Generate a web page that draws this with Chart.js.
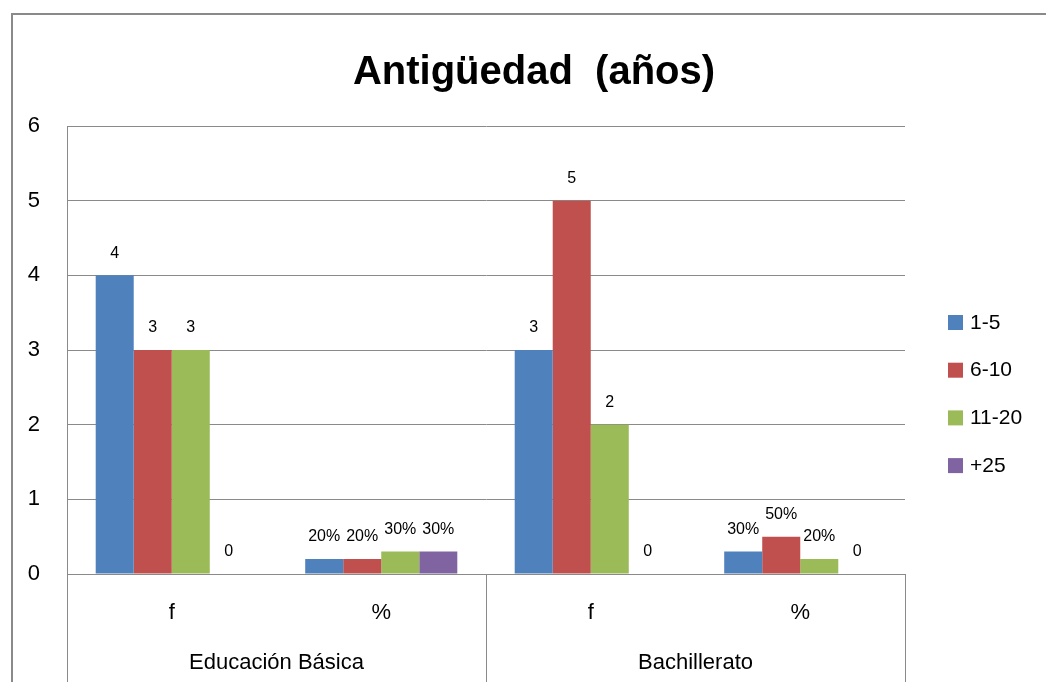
<!DOCTYPE html>
<html>
<head>
<meta charset="utf-8">
<script src="https://cdn.jsdelivr.net/npm/chart.js@4/dist/chart.umd.min.js"></script>
<style>
    body { margin: 0; background: #fff; overflow: hidden; }
    #wrap { position: absolute; left: 11px; top: 13px; width: 1046px; height: 669px; }
</style>
</head>
<body>
<div id="wrap"><canvas id="antiguedadChart"></canvas></div>
<script>
const categories = ["f", "%", "f", "%"];
const groups = ["Educación Básica", "Bachillerato"];
const seriesNames = ["1-5", "6-10", "11-20", "+25"];
const range1to5 = [4, 0.2, 3, 0.3];
const range6to10 = [3, 0.2, 5, 0.5];
const range11to20 = [3, 0.3, 2, 0.2];
const range25plus = [0, 0.3, 0, 0];
const colors = ["#4F81BD", "#C0504D", "#9BBB59", "#8064A2"];

const FONT = "'Liberation Sans', Arial, sans-serif";
const LINE = "#8a8a8a";

// white background + outer frame (top and left edges)
const framePlugin = {
    id: "frame",
    beforeDraw(chart) {
        const ctx = chart.ctx;
        ctx.save();
        ctx.fillStyle = "#fff";
        ctx.fillRect(0, 0, chart.width, chart.height);
        ctx.strokeStyle = LINE;
        ctx.lineWidth = 2;
        ctx.beginPath();
        ctx.moveTo(1, chart.height);
        ctx.lineTo(1, 1);
        ctx.lineTo(chart.width, 1);
        ctx.stroke();
        ctx.restore();
    },
};

// group separators on the category axis
const separatorPlugin = {
    id: "separators",
    afterDraw(chart) {
        const x2 = chart.scales.x2;
        const ctx = chart.ctx;
        const p0 = x2.getPixelForValue(0);
        const p1 = x2.getPixelForValue(1);
        const xs = [x2.left, (p0 + p1) / 2, x2.right];
        ctx.save();
        ctx.strokeStyle = LINE;
        ctx.lineWidth = 1;
        xs.forEach((x) => {
            const px = Math.round(x) + 0.5;
            ctx.beginPath();
            ctx.moveTo(px, chart.chartArea.bottom);
            ctx.lineTo(px, chart.height);
            ctx.stroke();
        });
        ctx.restore();
    },
};

// value labels above bars
const valueLabelPlugin = {
    id: "valueLabels",
    afterDatasetsDraw(chart) {
        const ctx = chart.ctx;
        ctx.save();
        ctx.font = "16px " + FONT;
        ctx.fillStyle = "#000";
        ctx.textAlign = "center";
        ctx.textBaseline = "middle";
        chart.data.datasets.forEach((ds, i) => {
            chart.getDatasetMeta(i).data.forEach((bar, j) => {
                const v = ds.data[j];
                const txt = categories[j] === "%" && v > 0 ? Math.round(v * 100) + "%" : String(v);
                ctx.fillText(txt, bar.x, bar.y - 22);
            });
        });
        ctx.restore();
    },
};

// legend on the right
const sideLegendPlugin = {
    id: "sideLegend",
    afterDraw(chart) {
        const ctx = chart.ctx;
        const x0 = chart.chartArea.right + 43;
        ctx.save();
        ctx.font = "21px " + FONT;
        ctx.textBaseline = "middle";
        ctx.textAlign = "left";
        chart.data.datasets.forEach((ds, i) => {
            const y = 309 + i * 47.7;
            ctx.fillStyle = ds.backgroundColor;
            ctx.fillRect(x0, y - 7, 15, 15);
            ctx.fillStyle = "#000";
            ctx.fillText(ds.label, x0 + 22, y + 1);
        });
        ctx.restore();
    },
};

const seriesData = [range1to5, range6to10, range11to20, range25plus];

new Chart(document.getElementById("antiguedadChart"), {
    type: "bar",
    data: {
        labels: categories,
        datasets: seriesNames.map((name, i) => ({
            label: name,
            data: seriesData[i],
            backgroundColor: colors[i],
            borderWidth: 0,
            barPercentage: 1,
            categoryPercentage: 0.726,
            xAxisID: "x",
            yAxisID: "y",
        })),
    },
    options: {
        responsive: true,
        maintainAspectRatio: false,
        animation: false,
        layout: {
            padding: 0,
        },
        plugins: {
            legend: { display: false },
            tooltip: { enabled: false },
            title: {
                display: true,
                text: "Antigüedad  (años)",
                color: "#000",
                font: { family: FONT, size: 40, weight: "bold" },
                padding: { top: 36, bottom: 29 },
            },
        },
        scales: {
            y: {
                min: 0,
                max: 6,
                ticks: {
                    stepSize: 1,
                    color: "#000",
                    padding: 27,
                    font: { family: FONT, size: 22 },
                },
                grid: { color: LINE, drawTicks: false },
                border: { color: LINE },
                afterFit(scale) {
                    scale.width = 56;
                },
            },
            // empty right-hand space reserved for the legend
            yRight: {
                type: "linear",
                position: "right",
                ticks: { display: false },
                grid: { display: false },
                border: { display: false },
                afterFit(scale) {
                    scale.width = 152;
                },
            },
            x: {
                weight: 1,
                grid: { display: false },
                border: { color: LINE },
                ticks: {
                    color: "#000",
                    padding: 18,
                    font: { family: FONT, size: 22 },
                },
                afterFit(scale) {
                    scale.height = 60;
                },
            },
            x2: {
                type: "category",
                position: "bottom",
                weight: 2,
                labels: groups,
                offset: true,
                grid: { display: false },
                border: { display: false },
                ticks: {
                    color: "#000",
                    padding: 8,
                    font: { family: FONT, size: 22 },
                },
                afterFit(scale) {
                    scale.height = 48;
                },
            },
        },
    },
    plugins: [framePlugin, separatorPlugin, valueLabelPlugin, sideLegendPlugin],
});
</script>
</body>
</html>
